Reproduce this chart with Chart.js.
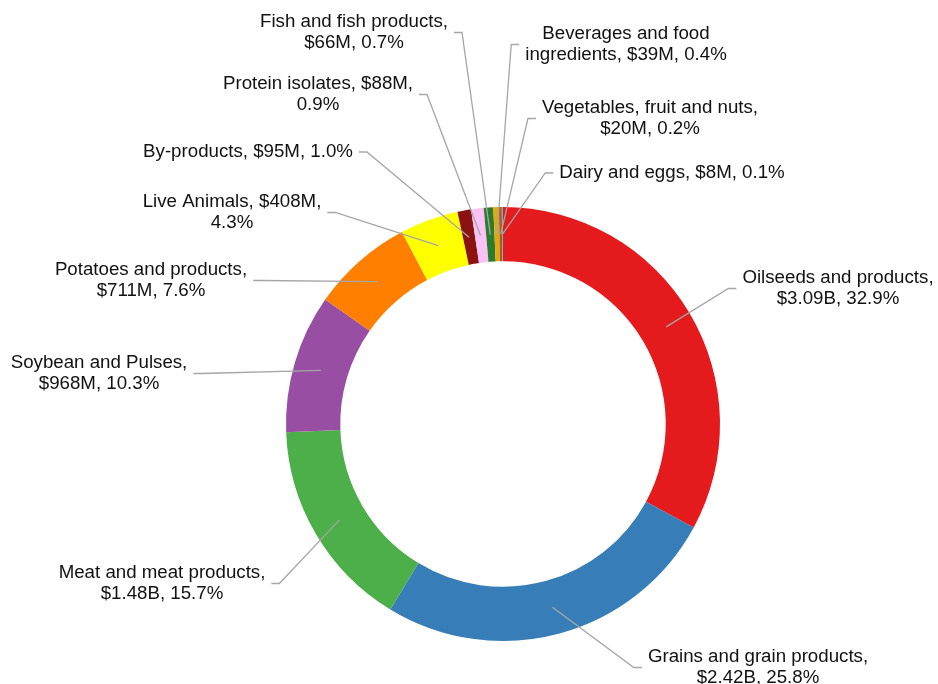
<!DOCTYPE html>
<html>
<head>
<meta charset="utf-8">
<script src="https://cdn.jsdelivr.net/npm/chart.js@4"></script>
<style>
  html, body { margin: 0; padding: 0; background: #fff; }
  #wrap { width: 938px; height: 684px; position: relative; }
</style>
</head>
<body>
<div id="wrap"><canvas id="donut"></canvas></div>
<script>
// data (values in $M)
const categories = [
  'Oilseeds and products', 'Grains and grain products', 'Meat and meat products',
  'Soybean and Pulses', 'Potatoes and products', 'Live Animals', 'By-products',
  'Protein isolates', 'Fish and fish products', 'Beverages and food ingredients',
  'Vegetables, fruit and nuts', 'Dairy and eggs'
];
const values = [3090, 2420, 1475, 968, 711, 408, 95, 88, 66, 39, 20, 8];
const valueLabels = ['$3.09B', '$2.42B', '$1.48B', '$968M', '$711M', '$408M', '$95M', '$88M', '$66M', '$39M', '$20M', '$8M'];
const shareLabels = ['32.9%', '25.8%', '15.7%', '10.3%', '7.6%', '4.3%', '1.0%', '0.9%', '0.7%', '0.4%', '0.2%', '0.1%'];

const colors = ['#e41a1c', '#377eb8', '#4daf4a', '#984ea3', '#ff7f00', '#ffff00',
  '#8c1212', '#fbc2f8', '#2e7b2e', '#e2a90c', '#a85a1c', '#6fb0d8'];

// label text broken into lines, and where each label sits (center x, first line y)
const labelLines = [
  ['Oilseeds and products,', '$3.09B, 32.9%'],
  ['Grains and grain products,', '$2.42B, 25.8%'],
  ['Meat and meat products,', '$1.48B, 15.7%'],
  ['Soybean and Pulses,', '$968M, 10.3%'],
  ['Potatoes and products,', '$711M, 7.6%'],
  ['Live Animals, $408M,', '4.3%'],
  ['By-products, $95M, 1.0%'],
  ['Protein isolates, $88M,', '0.9%'],
  ['Fish and fish products,', '$66M, 0.7%'],
  ['Beverages and food', 'ingredients, $39M, 0.4%'],
  ['Vegetables, fruit and nuts,', '$20M, 0.2%'],
  ['Dairy and eggs, $8M, 0.1%']
];
const labelPos = [
  [838, 278], [758, 657], [162, 573], [99, 363], [151, 270], [232, 202],
  [248, 152], [318, 84], [354, 22], [626, 34], [650, 108], [672, 173]
];

const FONT = '18.7px "Liberation Sans", Arial, sans-serif';
const LINE_H = 21;

const leaderLabels = {
  id: 'leaderLabels',
  afterDatasetsDraw(chart) {
    const ctx = chart.ctx;
    const arcs = chart.getDatasetMeta(0).data;
    ctx.save();
    ctx.font = FONT;
    arcs.forEach((arc, i) => {
      const p = arc.getProps(['x', 'y', 'startAngle', 'endAngle', 'innerRadius', 'outerRadius'], true);
      const mid = (p.startAngle + p.endAngle) / 2;
      const r = (p.innerRadius + p.outerRadius) / 2;
      const ex = p.x + Math.cos(mid) * r;
      const ey = p.y + Math.sin(mid) * r;

      const lines = labelLines[i];
      const [cx, y1] = labelPos[i];
      const w = Math.max(...lines.map(t => ctx.measureText(t).width));
      const midY = y1 + (lines.length - 1) * LINE_H / 2;
      const onLeft = cx < p.x;
      const sx = onLeft ? cx + w / 2 + 6 : cx - w / 2 - 6;
      const hx = onLeft ? sx + 8 : sx - 8;

      ctx.strokeStyle = '#a6a6a6';
      ctx.lineWidth = 1.3;
      ctx.beginPath();
      ctx.moveTo(sx, midY);
      ctx.lineTo(hx, midY);
      ctx.lineTo(ex, ey);
      ctx.stroke();

      ctx.fillStyle = '#111';
      ctx.textAlign = 'center';
      ctx.textBaseline = 'middle';
      lines.forEach((t, k) => ctx.fillText(t, cx, y1 + k * LINE_H));
    });
    ctx.restore();
  }
};

new Chart(document.getElementById('donut'), {
  type: 'doughnut',
  data: {
    labels: categories,
    datasets: [{
      data: values,
      backgroundColor: colors,
      borderWidth: 0
    }]
  },
  options: {
    responsive: true,
    maintainAspectRatio: false,
    animation: false,
    cutout: '75%',
    layout: { padding: { left: 286, top: 207, right: 218, bottom: 43 } },
    plugins: {
      legend: { display: false },
      tooltip: { enabled: false }
    }
  },
  plugins: [leaderLabels]
});
</script>
</body>
</html>
